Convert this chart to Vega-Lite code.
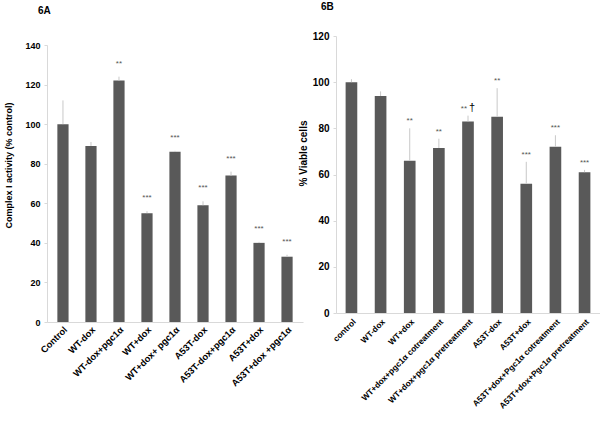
{
  "$schema": "https://vega.github.io/schema/vega-lite/v6.json",
  "padding": {"left": 4, "top": 2, "right": 0, "bottom": 0},
  "spacing": -5,
  "background": "white",
  "datasets": {
    "a": [
      {"group": "Control", "value": 100, "err": 112, "sig": ""},
      {"group": "WT-dox", "value": 89, "err": 91, "sig": ""},
      {"group": "WT-dox+pgc1α", "value": 122, "err": 124, "sig": "**"},
      {"group": "WT+dox", "value": 55, "err": 56, "sig": "***"},
      {"group": "WT+dox+ pgc1α", "value": 86, "err": 86.5, "sig": "***"},
      {"group": "A53T-dox", "value": 59, "err": 61, "sig": "***"},
      {"group": "A53T-dox+pgc1α", "value": 74, "err": 76, "sig": "***"},
      {"group": "A53T+dox", "value": 40, "err": 40.5, "sig": "***"},
      {"group": "A53T+dox +pgc1α", "value": 33, "err": 34, "sig": "***"}
    ],
    "b": [
      {"group": "control", "value": 100, "err": 101.3, "sig": "", "sig2": "", "dag": ""},
      {"group": "WT-dox", "value": 94, "err": 96, "sig": "", "sig2": "", "dag": ""},
      {"group": "WT+dox", "value": 66, "err": 80, "sig": "**", "sig2": "", "dag": ""},
      {"group": "WT+dox+pgc1α cotreatment", "value": 71.5, "err": 75.5, "sig": "**", "sig2": "", "dag": ""},
      {"group": "WT+dox+pgc1α pretreatment", "value": 83, "err": 85.5, "sig": "", "sig2": "**", "dag": "†"},
      {"group": "A53T-dox", "value": 85, "err": 97.4, "sig": "**", "sig2": "", "dag": ""},
      {"group": "A53T+dox", "value": 56, "err": 65.5, "sig": "***", "sig2": "", "dag": ""},
      {"group": "A53T+dox+Pgc1α cotreatment", "value": 72, "err": 77, "sig": "***", "sig2": "", "dag": ""},
      {"group": "A53T+dox+Pgc1α pretreatment", "value": 61, "err": 62, "sig": "***", "sig2": "", "dag": ""}
    ]
  },
  "config": {
    "font": "Liberation Sans",
    "view": {"stroke": null},
    "axis": {
      "grid": false,
      "domainColor": "#d9d9d9",
      "tickColor": "#d9d9d9",
      "tickSize": 3,
      "labelColor": "#000000",
      "titleColor": "#000000",
      "labelFontWeight": "bold",
      "titleFontWeight": "bold",
      "labelOverlap": false
    },
    "title": {"anchor": "start", "frame": "group", "fontSize": 10, "fontWeight": "bold", "color": "#000000"}
  },
  "hconcat": [
    {
      "title": {"text": "6A", "dx": -9, "offset": 20},
      "width": 256,
      "height": 286,
      "data": {"name": "a"},
      "encoding": {
        "x": {
          "field": "group", "type": "nominal", "sort": null,
          "scale": {"paddingInner": 0.6, "paddingOuter": 0.37},
          "axis": {"title": null, "labelAngle": -45, "labelFontSize": 9.3, "labelPadding": 3, "ticks": false}
        }
      },
      "layer": [
        {
          "mark": {"type": "bar", "color": "#595959"},
          "encoding": {
            "y": {
              "field": "value", "type": "quantitative",
              "scale": {"domain": [0, 140], "rangeMax": 9, "nice": false},
              "axis": {"title": "Complex I activity (% control)", "values": [0, 20, 40, 60, 80, 100, 120, 140], "labelFontSize": 9, "titleFontSize": 9, "labelPadding": 4, "titlePadding": 11, "titleY": 129}
            }
          }
        },
        {
          "mark": {"type": "rule", "color": "#c8c8c8", "strokeWidth": 1},
          "encoding": {"y": {"field": "value", "type": "quantitative"}, "y2": {"field": "err"}}
        },
        {
          "mark": {"type": "text", "fontSize": 8, "color": "#555555", "baseline": "middle", "dy": -13},
          "encoding": {"y": {"field": "err", "type": "quantitative"}, "text": {"field": "sig"}}
        }
      ]
    },
    {
      "title": {"text": "6B", "dx": -15, "offset": 19},
      "width": 264,
      "height": 277,
      "data": {"name": "b"},
      "encoding": {
        "x": {
          "field": "group", "type": "nominal", "sort": null,
          "scale": {"paddingInner": 0.6, "paddingOuter": 0.33},
          "axis": {"title": null, "labelAngle": -45, "labelFontSize": 8.3, "labelPadding": 4, "ticks": false}
        }
      },
      "layer": [
        {
          "mark": {"type": "bar", "color": "#595959"},
          "encoding": {
            "y": {
              "field": "value", "type": "quantitative",
              "scale": {"domain": [0, 120], "nice": false},
              "axis": {"title": "% Viable cells", "values": [0, 20, 40, 60, 80, 100, 120], "labelFontSize": 10, "titleFontSize": 10, "labelPadding": 4, "titlePadding": 4, "titleY": 117}
            }
          }
        },
        {
          "mark": {"type": "rule", "color": "#c8c8c8", "strokeWidth": 1},
          "encoding": {"y": {"field": "value", "type": "quantitative"}, "y2": {"field": "err"}}
        },
        {
          "mark": {"type": "text", "fontSize": 8, "color": "#555555", "baseline": "middle", "dy": -7},
          "encoding": {"y": {"field": "err", "type": "quantitative"}, "text": {"field": "sig"}}
        },
        {
          "mark": {"type": "text", "fontSize": 8, "color": "#555555", "baseline": "middle", "align": "right", "dx": -1, "dy": -7},
          "encoding": {"y": {"field": "err", "type": "quantitative"}, "text": {"field": "sig2"}}
        },
        {
          "mark": {"type": "text", "fontSize": 11, "color": "#000000", "baseline": "middle", "align": "left", "dx": 1, "dy": -8},
          "encoding": {"y": {"field": "err", "type": "quantitative"}, "text": {"field": "dag"}}
        }
      ]
    }
  ]
}
